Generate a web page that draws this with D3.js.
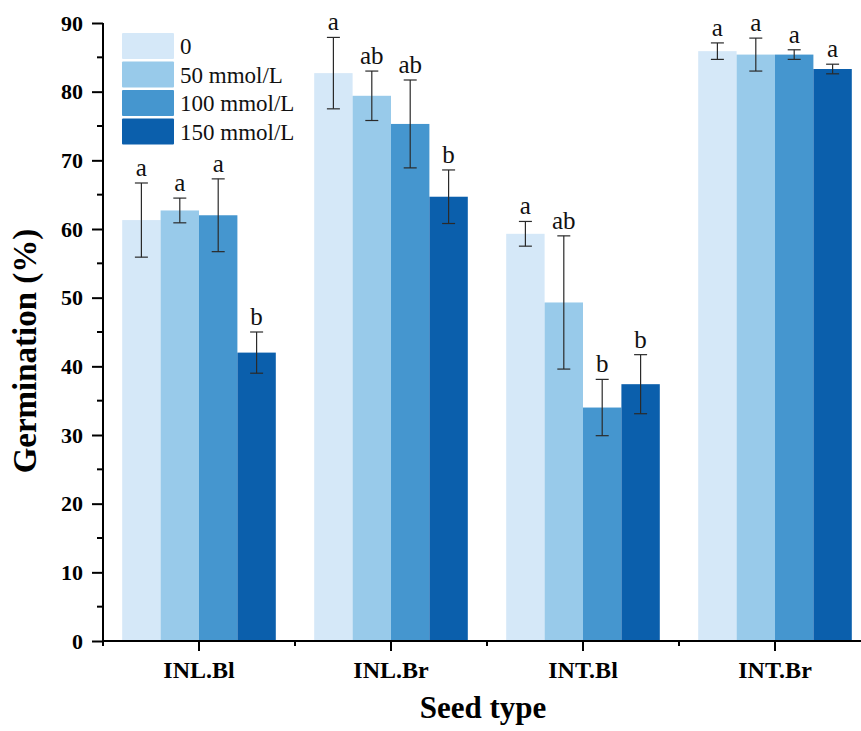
<!DOCTYPE html>
<html>
<head>
<meta charset="utf-8">
<script src="https://cdn.jsdelivr.net/npm/d3@7"></script>
<style>
	body { margin: 0; background: #fff; }
	text { font-family: "Liberation Serif", "Times New Roman", serif; }
</style>
</head>
<body>
<div id="root"></div>
<script>
// --- data ---
const seedTypes = ['INL.Bl', 'INL.Br', 'INT.Bl', 'INT.Br']
const treatments = ['0', '50 mmol/L', '100 mmol/L', '150 mmol/L']
const colors = ['#d5e8f8', '#98caea', '#4596cf', '#0b5fac']

// germination (%) per seed type, one array per treatment
const means = [
	[61.3, 82.7, 59.3, 85.9],
	[62.7, 79.4, 49.3, 85.4],
	[62.0, 75.3, 34.0, 85.4],
	[42.0, 64.7, 37.4, 83.3],
]
const errs = [
	[5.4, 5.2, 1.8, 1.2],
	[1.8, 3.6, 9.7, 2.4],
	[5.3, 6.4, 4.1, 0.7],
	[3.0, 3.9, 4.3, 0.7],
]
const letters = [
	['a', 'a', 'a', 'a'],
	['a', 'ab', 'ab', 'a'],
	['a', 'ab', 'b', 'a'],
	['b', 'b', 'b', 'a'],
]
const yTicks = [0, 10, 20, 30, 40, 50, 60, 70, 80, 90]

const C = {
	width: 861,
	height: 731,
	left: 103,
	top: 23,
	bottom: 641,
	bandRight: 871,
}

const svg = d3.select('#root').append('svg')
	.attr('width', C.width)
	.attr('height', C.height)

const x = d3.scaleBand()
	.domain(seedTypes)
	.range([C.left, C.bandRight])

const xInner = d3.scaleBand()
	.domain(treatments)
	.range([0, x.bandwidth() * 0.8])

const y = d3.scaleLinear()
	.domain([0, 90])
	.range([C.bottom, C.top])

// -- bars --
const rows = []
seedTypes.forEach((s, i) => {
	treatments.forEach((t, j) => {
		rows.push({ s, t, j, v: means[j][i], e: errs[j][i], l: letters[j][i] })
	})
})

const groupOffset = x.bandwidth() * 0.1

svg.append('g').selectAll('rect')
	.data(rows)
	.enter()
	.append('rect')
	.attr('x', d => x(d.s) + groupOffset + xInner(d.t))
	.attr('y', d => y(d.v))
	.attr('width', xInner.bandwidth())
	.attr('height', d => y(0) - y(d.v))
	.attr('fill', d => colors[d.j])

// -- error bars --
const cx = d => x(d.s) + groupOffset + xInner(d.t) + xInner.bandwidth() / 2
const eb = svg.append('g')
	.attr('stroke', '#2a2a2a')
	.attr('stroke-width', 1.2)
	.selectAll('g')
	.data(rows)
	.enter()
	.append('g')

eb.append('line')
	.attr('x1', cx).attr('x2', cx)
	.attr('y1', d => y(d.v + d.e)).attr('y2', d => y(d.v - d.e))
eb.append('line')
	.attr('x1', d => cx(d) - 6.5).attr('x2', d => cx(d) + 6.5)
	.attr('y1', d => y(d.v + d.e)).attr('y2', d => y(d.v + d.e))
eb.append('line')
	.attr('x1', d => cx(d) - 6.5).attr('x2', d => cx(d) + 6.5)
	.attr('y1', d => y(d.v - d.e)).attr('y2', d => y(d.v - d.e))

// -- letters --
svg.append('g').selectAll('text')
	.data(rows)
	.enter()
	.append('text')
	.attr('x', cx)
	.attr('y', d => y(d.v + d.e) - 7)
	.attr('text-anchor', 'middle')
	.attr('font-size', 25)
	.attr('fill', '#111')
	.text(d => d.l)

// -- axes --
const axisY = svg.append('g')
	.attr('transform', `translate(${C.left},0)`)
	.call(d3.axisLeft(y).tickValues(yTicks).tickSize(11).tickPadding(9))
axisY.select('.domain').attr('stroke-width', 2).attr('d', `M0,${C.bottom + 1}V${C.top}`)
axisY.selectAll('.tick line').attr('stroke-width', 2)
axisY.selectAll('.tick text')
	.attr('font-size', 22)
	.attr('font-weight', 'bold')
	.attr('font-family', '"Liberation Serif", serif')
axisY.selectAll('.minor')
	.data(yTicks.slice(0, -1).map(v => v + 5))
	.enter()
	.append('line')
	.attr('class', 'minor')
	.attr('stroke', '#000')
	.attr('stroke-width', 2)
	.attr('x1', -6).attr('x2', 0)
	.attr('y1', d => y(d)).attr('y2', d => y(d))

const axisX = svg.append('g')
	.attr('transform', `translate(0,${C.bottom})`)
	.call(d3.axisBottom(x).tickSize(10).tickPadding(10))
axisX.select('.domain').attr('stroke-width', 2).attr('d', `M${C.left - 1},0H${C.width}`)
axisX.selectAll('.tick line').attr('stroke-width', 2)
axisX.selectAll('.tick text')
	.attr('font-size', 24)
	.attr('font-weight', 'bold')
	.attr('font-family', '"Liberation Serif", serif')
axisX.selectAll('.minor')
	.data(seedTypes.map(s => x(s)))
	.enter()
	.append('line')
	.attr('class', 'minor')
	.attr('stroke', '#000')
	.attr('stroke-width', 2)
	.attr('x1', d => d).attr('x2', d => d)
	.attr('y1', 0).attr('y2', 5)

// -- titles --
svg.append('text')
	.attr('x', 483)
	.attr('y', 718)
	.attr('text-anchor', 'middle')
	.attr('font-size', 31)
	.attr('font-weight', 'bold')
	.text('Seed type')

svg.append('text')
	.attr('transform', 'translate(36,351) rotate(-90)')
	.attr('text-anchor', 'middle')
	.attr('font-size', 33)
	.attr('font-weight', 'bold')
	.text('Germination (%)')

// -- legend --
const legend = svg.append('g')
	.attr('transform', 'translate(122,33)')
	.selectAll('g')
	.data(treatments)
	.enter()
	.append('g')
	.attr('transform', (d, i) => `translate(0,${i * 28.5})`)

legend.append('rect')
	.attr('width', 52)
	.attr('height', 26)
	.attr('rx', 1)
	.attr('fill', (d, i) => colors[i])

legend.append('text')
	.attr('x', 58)
	.attr('y', 21)
	.attr('font-size', 23)
	.attr('fill', '#111')
	.text(d => d)
</script>
</body>
</html>
